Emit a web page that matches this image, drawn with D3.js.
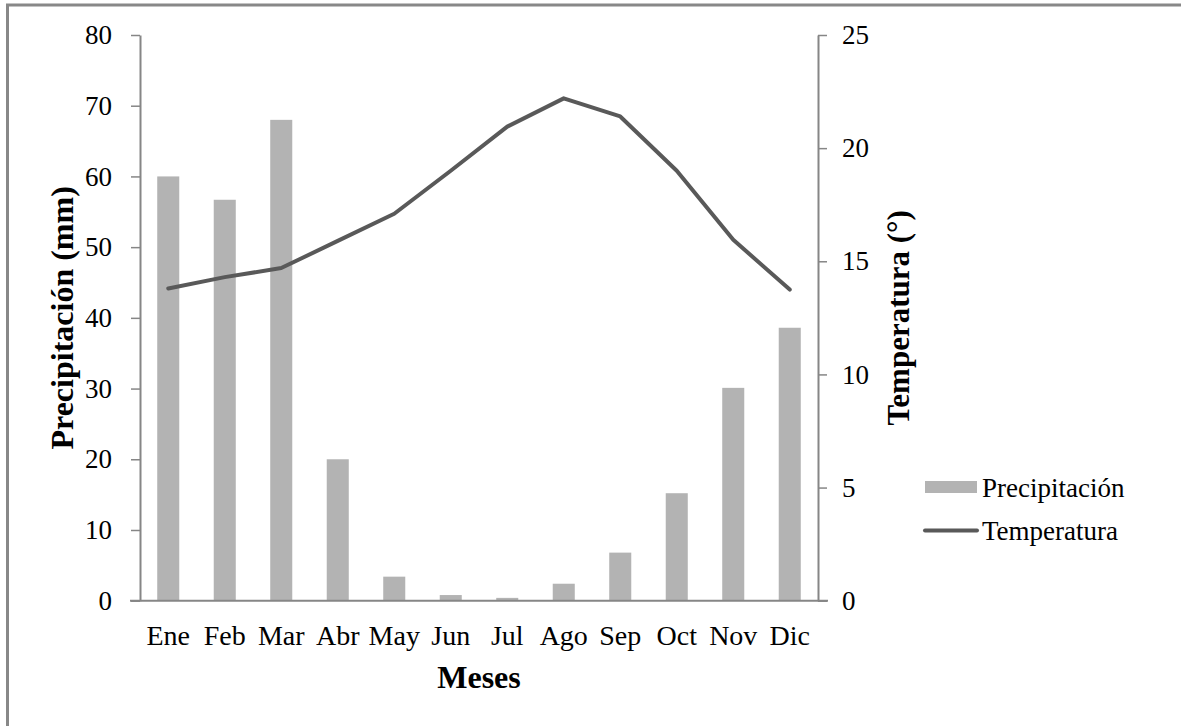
<!DOCTYPE html>
<html>
<head>
<meta charset="utf-8">
<script src="https://cdn.jsdelivr.net/npm/d3@7"></script>
<style>
  html, body { margin: 0; padding: 0; background: #fff; }
  svg { display: block; }
  svg text { font-family: "Times New Roman", "Liberation Serif", Times, "DejaVu Serif", serif !important; fill: #000; }
</style>
</head>
<body>
<svg id="chart" width="1181" height="726"></svg>
<script>
(function () {
const months = ["Ene","Feb","Mar","Abr","May","Jun","Jul","Ago","Sep","Oct","Nov","Dic"];
const precipitation = [60, 56.7, 68, 20, 3.4, 0.8, 0.4, 2.4, 6.8, 15.2, 30.1, 38.6];
const temperature = [13.8, 14.3, 14.7, 15.9, 17.1, 19.0, 20.95, 22.2, 21.4, 19.0, 15.95, 13.75];
const precipTicks = [0,10,20,30,40,50,60,70,80];
const tempTicks = [0,5,10,15,20,25];
const seriesNames = ["Precipitación", "Temperatura"];

const svg = d3.select("#chart");
const mLeft = 140, mRight = 818, mTop = 35, mBottom = 600.7;
const axisColor = "#868686";
const serif = "'Times New Roman', 'Liberation Serif', Times, 'DejaVu Serif', serif";

// outer frame (left & top visible)
svg.append("line").attr("x1", 7.5).attr("x2", 7.5).attr("y1", 4).attr("y2", 726)
  .attr("stroke", "#888").attr("stroke-width", 3);
svg.append("line").attr("x1", 6).attr("x2", 1181).attr("y1", 5).attr("y2", 5)
  .attr("stroke", "#888").attr("stroke-width", 3);

const x = d3.scaleBand().domain(months).range([mLeft, mRight]).padding(0);
const yP = d3.scaleLinear().domain([0, 80]).range([mBottom, mTop]);
const yT = d3.scaleLinear().domain([0, 25]).range([mBottom, mTop]);

const barW = x.bandwidth() * 0.39;

// bars
svg.append("g").selectAll("rect").data(precipitation).join("rect")
  .attr("x", (d, i) => x(months[i]) + x.bandwidth() / 2 - barW / 2)
  .attr("y", d => yP(d))
  .attr("width", barW)
  .attr("height", d => yP(0) - yP(d))
  .attr("fill", "#b3b3b3");

// left axis
const gL = svg.append("g").attr("transform", `translate(${mLeft},0)`)
  .call(d3.axisLeft(yP).tickValues(precipTicks).tickSize(9).tickSizeOuter(0).tickPadding(19));
// right axis
const gR = svg.append("g").attr("transform", `translate(${mRight},0)`)
  .call(d3.axisRight(yT).tickValues(tempTicks).tickSize(9).tickSizeOuter(0).tickPadding(15));
[gL, gR].forEach(g => {
  g.attr("font-family", serif);
  g.select(".domain").attr("stroke", axisColor).attr("stroke-width", 2);
  g.selectAll(".tick line").attr("stroke", axisColor).attr("stroke-width", 1.5);
  g.selectAll(".tick text").attr("font-size", 27).attr("fill", "#000");
});

// bottom axis
const gB = svg.append("g").attr("transform", `translate(0,${mBottom})`)
  .call(d3.axisBottom(x).tickSize(0).tickPadding(44));
gB.attr("font-family", serif);
gB.select(".domain").remove();
gB.selectAll(".tick text").attr("font-size", 28).attr("fill", "#000").attr("dy", 0);
svg.append("line").attr("x1", mLeft - 10).attr("x2", mRight + 10).attr("y1", mBottom).attr("y2", mBottom)
  .attr("stroke", axisColor).attr("stroke-width", 2);

// temperature line
const line = d3.line().x((d, i) => x(months[i]) + x.bandwidth() / 2).y(d => yT(d));
svg.append("path").datum(temperature).attr("d", line)
  .attr("fill", "none").attr("stroke", "#595959").attr("stroke-width", 4)
  .attr("stroke-linejoin", "round").attr("stroke-linecap", "round");

// axis titles
const titles = svg.append("g").attr("font-family", serif);
titles.append("text").attr("x", (mLeft + mRight) / 2).attr("y", 688)
  .attr("text-anchor", "middle").attr("font-weight", "bold").attr("font-size", 32).text("Meses");
titles.append("text").attr("transform", `translate(73,${(mTop + mBottom) / 2}) rotate(-90)`)
  .attr("text-anchor", "middle").attr("font-weight", "bold").attr("font-size", 32).text("Precipitación (mm)");
titles.append("text").attr("transform", `translate(909,${(mTop + mBottom) / 2}) rotate(-90)`)
  .attr("text-anchor", "middle").attr("font-weight", "bold").attr("font-size", 31).text("Temperatura (°)");

// legend
const lg = svg.append("g").attr("font-family", serif);
lg.append("rect").attr("x", 925).attr("y", 481).attr("width", 52).attr("height", 12).attr("fill", "#b3b3b3");
lg.append("text").attr("x", 982).attr("y", 497).attr("font-size", 27).text(seriesNames[0]);
lg.append("line").attr("x1", 925).attr("x2", 977).attr("y1", 530.5).attr("y2", 530.5)
  .attr("stroke", "#595959").attr("stroke-width", 4).attr("stroke-linecap", "round");
lg.append("text").attr("x", 982).attr("y", 540).attr("font-size", 27).text(seriesNames[1]);
})();
</script>
</body>
</html>
